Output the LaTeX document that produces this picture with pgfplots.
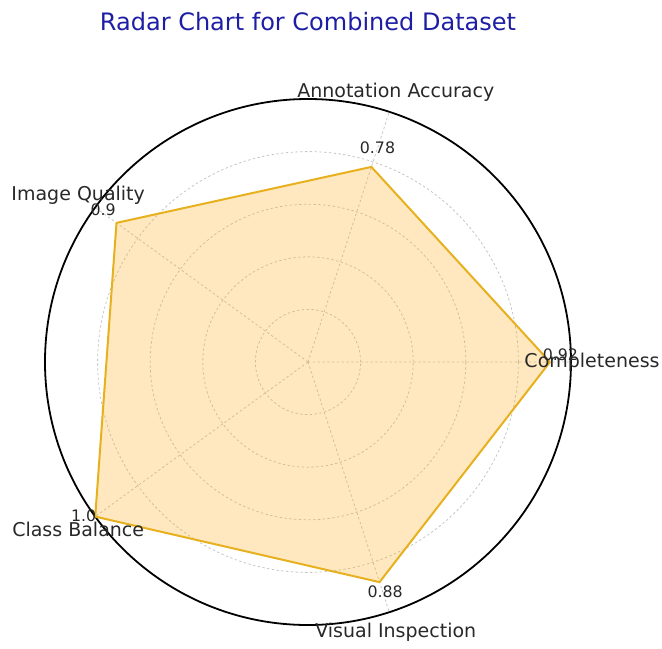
\documentclass[border=0pt]{standalone}
\usepackage{pgfplots}
\pgfplotsset{compat=1.18}
\usepgfplotslibrary{polar}
\usepackage{fontspec}
\setmainfont{DejaVu Sans}
\definecolor{linec}{RGB}{230,176,30}
\definecolor{fillc}{RGB}{255,165,0}
\definecolor{titlec}{RGB}{30,30,165}
\definecolor{txt}{RGB}{40,40,40}
\begin{document}
\begin{tikzpicture}
\begin{polaraxis}[
  at={(0,0)}, anchor=origin,
  width=263pt, height=263pt, scale only axis,
  xmin=0, xmax=360, ymin=0, ymax=1,
  xtick={0,72,144,216,288}, xticklabels={},
  ytick={0.2,0.4,0.6,0.8}, yticklabels={},
  xmajorgrids, ymajorgrids,
  major grid style={gray!45, dash pattern=on 1.2pt off 1.2pt, line width=0.4pt},
  x axis line style={black, line width=0.9pt},
  y axis line style={draw=none},
  major tick length=0pt,
  clip=false,
]
\addplot[draw=linec, line width=1pt, fill=fillc, fill opacity=0.25, line join=round]
  coordinates {(0,0.92) (72,0.78) (144,0.90) (216,1.00) (288,0.88) (360,0.92)};
\node[font=\fontsize{9.5}{11}\selectfont, text=txt] at (axis cs:0,1.08) {Completeness};
\node[font=\fontsize{9.5}{11}\selectfont, text=txt] at (axis cs:72,1.08) {Annotation Accuracy};
\node[font=\fontsize{9.5}{11}\selectfont, text=txt] at (axis cs:144,1.08) {Image Quality};
\node[font=\fontsize{9.5}{11}\selectfont, text=txt] at (axis cs:216,1.08) {Class Balance};
\node[font=\fontsize{9.5}{11}\selectfont, text=txt] at (axis cs:288,1.08) {Visual Inspection};
\node[font=\fontsize{7.9}{9}\selectfont, text=txt] at (axis cs:1.6,0.96) {0.92};
\node[font=\fontsize{7.9}{9}\selectfont, text=txt] at (axis cs:72,0.855) {0.78};
\node[font=\fontsize{7.9}{9}\selectfont, text=txt] at (axis cs:143.4,0.97) {0.9};
\node[font=\fontsize{7.9}{9}\selectfont, text=txt] at (axis cs:214.5,1.035) {1.0};
\node[font=\fontsize{7.9}{9}\selectfont, text=txt] at (axis cs:288.6,0.92) {0.88};
\end{polaraxis}
\node[font=\fontsize{12}{14}\selectfont, text=titlec] at (0pt,170pt) {Radar Chart for Combined Dataset};
\pgfresetboundingbox
\path[use as bounding box] (-154pt,-143pt) rectangle (177pt,181pt);
\end{tikzpicture}
\end{document}
